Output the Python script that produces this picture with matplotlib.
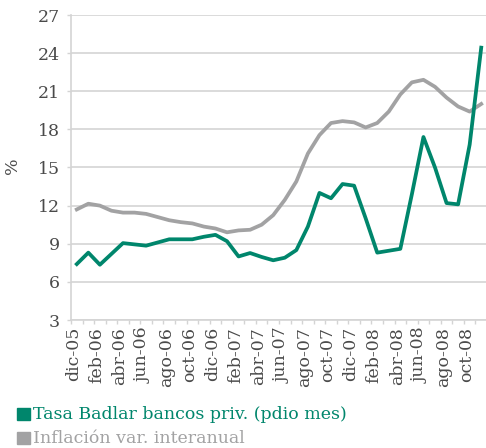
import matplotlib
matplotlib.use("Agg")
import matplotlib.pyplot as plt
import matplotlib.transforms as mtransforms
from matplotlib.ticker import FixedLocator

months = ["dic-05", "ene-06", "feb-06", "mar-06", "abr-06", "may-06", "jun-06", "jul-06",
          "ago-06", "sep-06", "oct-06", "nov-06", "dic-06", "ene-07", "feb-07", "mar-07",
          "abr-07", "may-07", "jun-07", "jul-07", "ago-07", "sep-07", "oct-07", "nov-07",
          "dic-07", "ene-08", "feb-08", "mar-08", "abr-08", "may-08", "jun-08", "jul-08",
          "ago-08", "sep-08", "oct-08", "nov-08"]

badlar = [7.4, 8.3, 7.35, 8.2, 9.05, 8.95, 8.85, 9.1, 9.35, 9.35, 9.35, 9.55,
          9.7, 9.2, 8.0, 8.27, 7.96, 7.7, 7.9, 8.5, 10.35, 13.0, 12.58, 13.7,
          13.57, 11.0, 8.3, 8.45, 8.6, 12.9, 17.4, 15.0, 12.2, 12.1, 16.8, 24.43]

inflacion = [11.7, 12.15, 12.0, 11.6, 11.45, 11.45, 11.35, 11.1, 10.85, 10.7, 10.6, 10.35,
             10.2, 9.9, 10.05, 10.1, 10.5, 11.25, 12.45, 13.9, 16.1, 17.55, 18.5, 18.65,
             18.55, 18.15, 18.5, 19.4, 20.75, 21.7, 21.9, 21.35, 20.5, 19.8, 19.4, 20.0]

yticks = [3, 6, 9, 12, 15, 18, 21, 24, 27]

TEAL = "#00866c"
GRAY = "#a2a2a3"
TXT = "#4a4a4a"
GRID = "#d4d4d4"

plt.rcParams['font.family'] = ['DejaVu Serif', 'DejaVu Sans']

W, H = 486, 448
fig = plt.figure(figsize=(W / 100, H / 100), dpi=100)
ax = fig.add_axes([71 / W, 1 - 320 / H, 416 / W, 305 / H])

x = list(range(len(months)))
ax.plot(x, inflacion, color=GRAY, lw=2.7, solid_joinstyle='round', zorder=3)
ax.plot(x, badlar, color=TEAL, lw=2.7, solid_joinstyle='round', zorder=4)

ax.set_xlim(-0.5, len(months) - 0.5)
ax.set_ylim(3, 27)
ax.set_yticks(yticks)
ax.set_yticklabels([str(v) for v in yticks], fontsize=12.5, color=TXT)
ax.yaxis.grid(True, color=GRID, lw=1.2)
ax.set_axisbelow(True)

ax.set_xticks(x[::2])
ax.set_xticklabels(months[::2], rotation=90, fontsize=12.5, color=TXT)
ax.xaxis.set_minor_locator(FixedLocator([i - 0.5 for i in range(len(months) + 1)]))
ax.tick_params(axis='x', which='major', length=0, pad=5)
ax.tick_params(axis='x', which='minor', length=3, color=GRID, width=1)
ax.tick_params(axis='y', length=3, color=GRID, width=1, pad=5)

shift = mtransforms.ScaledTranslation(-3 / 100, 0, fig.dpi_scale_trans)
for lbl in ax.get_xticklabels():
    lbl.set_transform(lbl.get_transform() + shift)

for s in ['top', 'right']:
    ax.spines[s].set_visible(False)
for s in ['left', 'bottom']:
    ax.spines[s].set_color(GRID)
    ax.spines[s].set_linewidth(1.2)

fig.text(13 / W, 1 - 166 / H, "%", rotation=90, ha='center', va='center',
         fontsize=12.5, color=TXT)

# legend
fig.patches.append(plt.Rectangle((17 / W, 1 - 420 / H), 13 / W, 12 / H,
                                 transform=fig.transFigure, color=TEAL))
fig.text(33 / W, 1 - 414 / H, "Tasa Badlar bancos priv. (pdio mes)", ha='left',
         va='center', fontsize=12.5, color=TEAL)
fig.patches.append(plt.Rectangle((17 / W, 1 - 444 / H), 13 / W, 12 / H,
                                 transform=fig.transFigure, color=GRAY))
fig.text(33 / W, 1 - 438 / H, "Inflación var. interanual", ha='left',
         va='center', fontsize=12.5, color=GRAY)

fig.savefig("out.png", dpi=100)
